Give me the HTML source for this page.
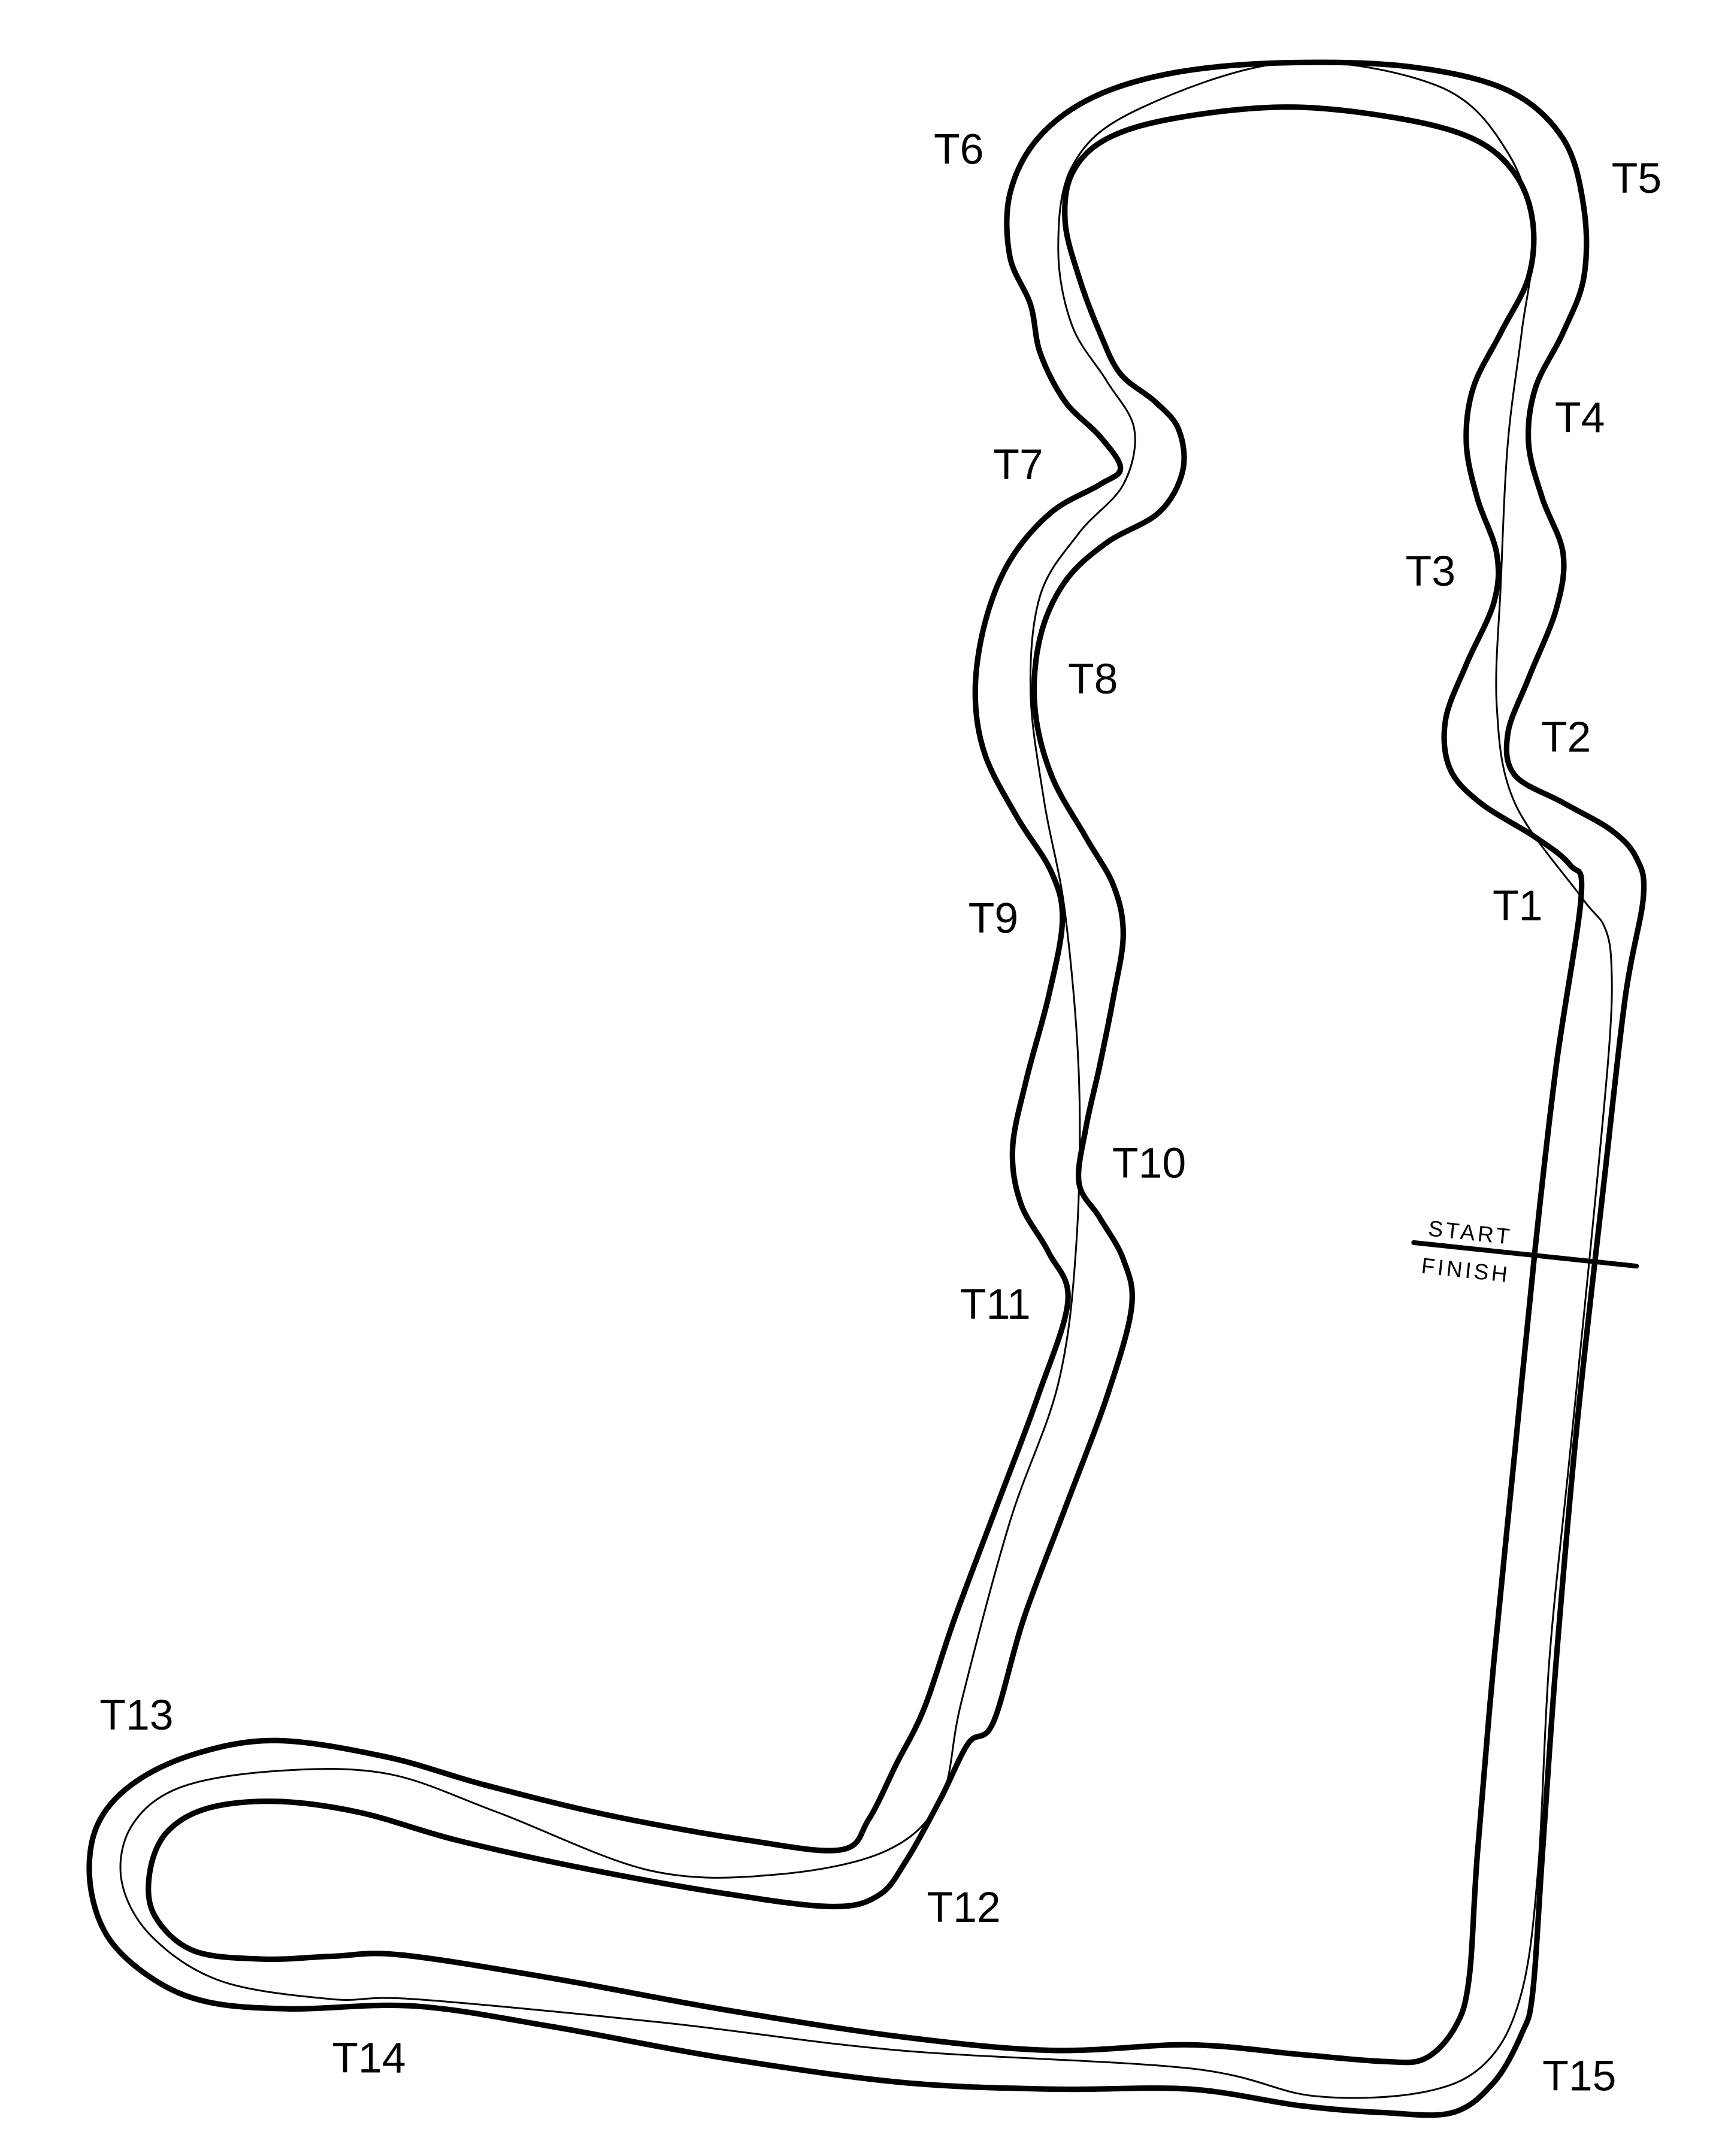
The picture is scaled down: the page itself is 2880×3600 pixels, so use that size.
<!DOCTYPE html>
<html><head><meta charset="utf-8"><style>
html,body{margin:0;padding:0;background:#fff;}
svg{display:block}
text{font-family:"Liberation Sans",sans-serif;fill:#000}
</style></head><body>
<svg width="2880" height="3600" viewBox="0 0 1247 1558" xmlns="http://www.w3.org/2000/svg">
<rect width="1247" height="1558" fill="#fff"/>
<g fill="none" stroke="#000" stroke-linejoin="round" stroke-linecap="round" id="g">
<polyline class="s" stroke-width="4" points="1188,648 1183,620 1165,600 1130,580 1095,560 1090,530 1105,490 1125,440 1130,400 1115,360 1105,320 1110,280 1130,240 1145,200 1145,150 1130,100 1090,65 1020,48 930,45 850,52 790,70 750,100 730,140 730,185 745,220 752,255 770,290 795,315 810,338 795,350 760,370 730,405 712,450 705,500 712,545 735,590 760,630 768,665 758,720 742,780 732,830 738,870 758,905 772,940 750,1010 720,1090 690,1170 668,1235 648,1275 628,1315 608,1337 540,1330 440,1312 350,1290 280,1270 200,1258 140,1268 95,1290 70,1320 65,1360 78,1400 110,1430 150,1447 210,1452 300,1450 400,1465 520,1487 650,1505 760,1510 860,1510 940,1522 1000,1527 1050,1527 1080,1505 1100,1470 1108,1440 1115,1340 1125,1200 1140,1030 1160,850 1175,720 1188,648"/>
<polyline class="s" stroke-width="4" points="1143,648 1135,625 1110,605 1070,580 1048,555 1045,520 1060,480 1080,435 1082,400 1068,360 1060,320 1065,280 1085,240 1105,200 1108,160 1095,125 1065,100 1010,85 930,77 850,85 800,100 775,125 770,160 780,200 795,240 810,270 835,290 852,310 855,340 838,370 800,392 770,420 752,460 748,510 760,560 785,605 805,640 812,675 805,720 795,770 785,815 780,855 795,880 812,910 818,945 800,1010 770,1090 740,1170 718,1245 700,1260 680,1300 655,1345 635,1370 600,1378 520,1368 420,1350 330,1330 260,1310 200,1302 150,1307 120,1325 108,1355 112,1385 140,1410 190,1416 240,1414 290,1413 400,1430 520,1452 650,1472 760,1482 860,1478 940,1485 1000,1490 1030,1488 1052,1465 1062,1430 1068,1340 1080,1200 1095,1050 1110,900 1125,770 1143,648"/>
<polyline class="s" stroke-width="1.3" points="1143,648 1160,670 1165,700 1163,760 1150,900 1135,1050 1120,1200 1112,1350 1100,1440 1075,1490 1030,1512 950,1515 860,1495 650,1482 480,1462 300,1445 240,1445 160,1432 110,1400 88,1360 95,1320 130,1292 200,1280 280,1282 360,1310 470,1352 560,1355 640,1338 680,1300 695,1230 730,1100 765,1000 778,900 780,780 770,660 755,580 745,500 752,430 780,385 812,350 820,310 800,275 775,235 765,180 775,120 820,80 930,45 1040,62 1090,110 1108,170 1100,240 1090,320 1085,420 1082,510 1095,580 1143,648"/>
<line x1="1022" y1="898" x2="1183" y2="915" stroke-width="3.5"/>
</g>
<g font-size="31">
<text x="675" y="118">T6</text>
<text x="1165" y="139">T5</text>
<text x="1124" y="312">T4</text>
<text x="718" y="346">T7</text>
<text x="1016" y="423">T3</text>
<text x="772" y="501">T8</text>
<text x="1114" y="543">T2</text>
<text x="1079" y="665">T1</text>
<text x="700" y="674">T9</text>
<text x="804" y="851">T10</text>
<text x="694" y="953">T11</text>
<text x="72" y="1250">T13</text>
<text x="670" y="1389">T12</text>
<text x="240" y="1498">T14</text>
<text x="1115" y="1511">T15</text>
</g>
<g font-size="16" letter-spacing="2">
<text x="1032" y="893" transform="rotate(6 1032 893)">START</text>
<text x="1027" y="920" transform="rotate(6 1027 920)">FINISH</text>
</g>
</svg>
<script>
document.querySelectorAll('polyline.s').forEach(function(pl){
  var p=pl.getAttribute('points').trim().split(/\s+/).map(function(s){return s.split(',').map(Number);});
  if(p[0][0]===p[p.length-1][0]&&p[0][1]===p[p.length-1][1])p.pop();
  var n=p.length,d='M'+p[0][0]+','+p[0][1];
  for(var i=0;i<n;i++){
    var p0=p[(i-1+n)%n],p1=p[i],p2=p[(i+1)%n],p3=p[(i+2)%n],t=6;
    d+=' C'+(p1[0]+(p2[0]-p0[0])/t)+','+(p1[1]+(p2[1]-p0[1])/t)+' '+(p2[0]-(p3[0]-p1[0])/t)+','+(p2[1]-(p3[1]-p1[1])/t)+' '+p2[0]+','+p2[1];
  }
  d+='Z';
  var path=document.createElementNS('http://www.w3.org/2000/svg','path');
  path.setAttribute('d',d);path.setAttribute('stroke-width',pl.getAttribute('stroke-width'));
  pl.parentNode.replaceChild(path,pl);
});
</script>
</body></html>
